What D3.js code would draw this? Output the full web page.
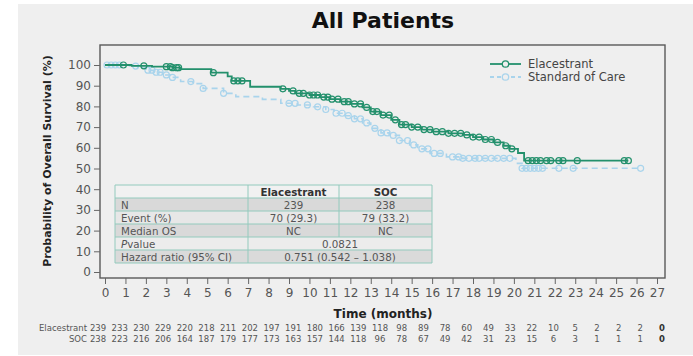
<!DOCTYPE html>
<html>
<head>
<meta charset="utf-8">
<script src="https://cdn.jsdelivr.net/npm/d3@7"></script>
<style>
  html, body { margin: 0; padding: 0; background: #fff; }
  svg { display: block; font-family: "DejaVu Sans", Verdana, sans-serif; }
</style>
</head>
<body>
<div id="chart"></div>
<script>
// Kaplan-Meier steps (months, survival %)
const elacTimes = [0, 1.3, 2.3, 3.3, 3.7, 5.2, 6.0, 6.2, 7.1, 8.6, 9.0, 9.3, 10.0, 10.5, 11.0, 11.5, 12.0, 12.6, 13.0, 13.5, 14.0, 14.4, 15.0, 15.5, 16.0, 16.8, 17.5, 18.0, 18.5, 19.0, 19.5, 19.8, 20.2, 20.5, 25.6];
const elacSurv  = [100, 99.6, 99.2, 98.7, 98.0, 96.3, 94.5, 92.3, 89.5, 88.5, 87.5, 86.3, 85.5, 84.5, 83.5, 82.3, 81.2, 79.5, 77.5, 75.8, 73.5, 71.2, 70.0, 68.8, 67.8, 67.0, 66.2, 65.2, 64.0, 62.6, 61.0, 59.5, 57.5, 53.8, 53.8];
const socTimes  = [0, 1.2, 1.6, 2.0, 2.4, 2.8, 3.3, 3.7, 4.3, 4.8, 5.8, 6.4, 7.7, 8.6, 9.4, 10.2, 10.8, 11.2, 11.7, 12.2, 12.6, 13.0, 13.5, 13.9, 14.4, 14.9, 15.3, 15.9, 16.7, 17.5, 20.1, 20.4, 26.2];
const socSurv   = [100, 99.5, 98.5, 97.5, 96.5, 95.2, 94.0, 92.0, 91.0, 88.7, 86.3, 84.7, 83.4, 81.5, 80.7, 79.8, 78.5, 76.7, 75.5, 74.0, 72.0, 69.4, 67.2, 66.0, 63.5, 61.4, 59.5, 57.3, 55.6, 54.9, 52.5, 50.1, 50.1];

// censoring marks (months)
const elacCensor = [0.9, 1.9, 3.0, 3.2, 3.3, 3.5, 3.6, 5.3, 6.3, 6.5, 6.7, 8.7, 9.2, 9.5, 9.7, 10.0, 10.2, 10.4, 10.7, 10.9, 11.1, 11.4, 11.7, 11.9, 12.2, 12.5, 12.8, 13.1, 13.3, 13.6, 13.9, 14.2, 14.5, 14.7, 15.0, 15.3, 15.6, 15.9, 16.2, 16.5, 16.8, 17.1, 17.4, 17.7, 18.0, 18.3, 18.6, 18.9, 19.2, 19.6, 19.9, 20.7, 20.9, 21.1, 21.3, 21.6, 21.8, 22.2, 22.4, 23.1, 25.4, 25.6];
const socCensor  = [0.1, 0.3, 0.5, 0.7, 1.5, 2.1, 2.3, 2.5, 2.7, 3.0, 3.3, 4.2, 4.8, 5.8, 9.0, 9.3, 9.9, 10.4, 10.8, 11.3, 11.6, 11.9, 12.2, 12.5, 12.8, 13.2, 13.5, 13.8, 14.1, 14.4, 14.8, 15.1, 15.5, 15.8, 16.1, 16.4, 17.0, 17.3, 17.5, 17.8, 18.1, 18.3, 18.6, 18.9, 19.2, 19.5, 19.8, 20.4, 20.6, 20.8, 21.0, 21.2, 21.4, 22.2, 22.9, 26.2];

const xTicks = d3.range(0, 28);
const yTicks = [0, 10, 20, 30, 40, 50, 60, 70, 80, 90, 100];

// numbers at risk
const riskLabels = ["Elacestrant", "SOC"];
const elacRisk = [239, 233, 230, 229, 220, 218, 211, 202, 197, 191, 180, 166, 139, 118, 98, 89, 78, 60, 49, 33, 22, 10, 5, 2, 2, 2, 0];
const socRisk  = [238, 223, 216, 206, 164, 187, 179, 177, 173, 163, 157, 144, 118, 96, 78, 67, 49, 42, 31, 23, 15, 6, 3, 1, 1, 1, 0];

// summary table
const tableHeader = ["", "Elacestrant", "SOC"];
const tableRows = [
  ["N", "239", "238"],
  ["Event (%)", "70 (29.3)", "79 (33.2)"],
  ["Median OS", "NC", "NC"],
  ["P value", "0.0821"],
  ["Hazard ratio (95% CI)", "0.751 (0.542 \u2013 1.038)"]
];

const seriesNames = ["Elacestrant", "Standard of Care"];
const elacColor = "#23906c";
const socColor = "#a9d4ec";

const W = 693, H = 356;
const svg = d3.select("#chart").append("svg").attr("width", W).attr("height", H);

svg.append("rect").attr("x", 18).attr("y", 4).attr("width", W - 18).attr("height", 351).attr("fill", "#efefef");

const x = d3.scaleLinear().domain([0, 27]).range([105, 657]);
const y = d3.scaleLinear().domain([0, 100]).range([272, 65]);
const frame = { left: 100, top: 45, right: 665, bottom: 278 };

// title
svg.append("text").attr("x", 383).attr("y", 28).attr("text-anchor", "middle")
  .attr("font-size", 22).attr("font-weight", "bold").attr("fill", "#111").text("All Patients");

// frame
svg.append("rect").attr("x", frame.left).attr("y", frame.top)
  .attr("width", frame.right - frame.left).attr("height", frame.bottom - frame.top)
  .attr("fill", "none").attr("stroke", "#5a5a5a").attr("stroke-width", 1.4);

// y axis
const yAxis = svg.append("g").attr("transform", `translate(${frame.left},0)`)
  .call(d3.axisLeft(y).tickValues(yTicks).tickSize(6).tickSizeOuter(0).tickPadding(3));
yAxis.select(".domain").remove();
yAxis.selectAll("line").attr("stroke", "#666");
yAxis.selectAll("text").attr("font-size", 12).attr("fill", "#555").attr("font-family", "DejaVu Sans, Verdana, sans-serif");

// x axis
const xAxis = svg.append("g").attr("transform", `translate(0,${frame.bottom})`)
  .call(d3.axisBottom(x).tickValues(xTicks).tickSize(6).tickSizeOuter(0).tickPadding(4));
xAxis.select(".domain").remove();
xAxis.selectAll("line").attr("stroke", "#666");
xAxis.selectAll("text").attr("font-size", 12).attr("fill", "#555").attr("font-family", "DejaVu Sans, Verdana, sans-serif");

svg.append("text").attr("transform", "translate(51,161) rotate(-90)").attr("text-anchor", "middle")
  .attr("font-size", 11).attr("font-weight", "bold").attr("fill", "#222")
  .text("Probability of Overall Survival (%)");

svg.append("text").attr("x", 383).attr("y", 318).attr("text-anchor", "middle")
  .attr("font-size", 12).attr("font-weight", "bold").attr("fill", "#222").text("Time (months)");

// summary table
const colX = [115, 248, 339, 432];
const rowY = d3.range(0, 7).map(i => 185 + i * 13);
const rowFill = ["#f1f1f1", "#d9d9d9", "#e7e7e7", "#d9d9d9", "#ececec", "#dadada"];
const tblFont = 10.3;
const tbl = svg.append("g");
const allRows = [tableHeader].concat(tableRows);
allRows.forEach((row, i) => {
  tbl.append("rect").attr("x", colX[0]).attr("y", rowY[i]).attr("width", colX[3] - colX[0]).attr("height", 13)
    .attr("fill", rowFill[i]);
  const ty = rowY[i] + 10.5;
  const label = tbl.append("text").attr("x", colX[0] + 6).attr("y", ty).attr("font-size", tblFont).attr("fill", "#555");
  if (row[0] === "P value") {
    label.append("tspan").attr("font-style", "italic").text("P");
    label.append("tspan").text("value");
  } else {
    label.text(row[0]);
  }
  if (row.length === 3) {
    [1, 2].forEach(c => {
      tbl.append("text").attr("x", (colX[c] + colX[c + 1]) / 2).attr("y", ty).attr("text-anchor", "middle")
        .attr("font-size", tblFont).attr("fill", i === 0 ? "#333" : "#555").attr("font-weight", i === 0 ? "bold" : "normal")
        .text(row[c]);
    });
  } else {
    tbl.append("text").attr("x", (colX[1] + colX[3]) / 2).attr("y", ty).attr("text-anchor", "middle")
      .attr("font-size", tblFont).attr("fill", "#555").text(row[1]);
  }
});
// table borders
const border = "#93cabd";
rowY.forEach(ry => {
  tbl.append("line").attr("x1", colX[0]).attr("x2", colX[3]).attr("y1", ry).attr("y2", ry).attr("stroke", border);
});
[0, 3].forEach(c => {
  tbl.append("line").attr("x1", colX[c]).attr("x2", colX[c]).attr("y1", rowY[0]).attr("y2", rowY[6]).attr("stroke", border);
});
tbl.append("line").attr("x1", colX[1]).attr("x2", colX[1]).attr("y1", rowY[0]).attr("y2", rowY[6]).attr("stroke", border);
tbl.append("line").attr("x1", colX[2]).attr("x2", colX[2]).attr("y1", rowY[0]).attr("y2", rowY[4]).attr("stroke", border);

// curves
const line = d3.line().curve(d3.curveStepAfter).x(d => x(d[0])).y(d => y(d[1]));
const elacPts = elacTimes.map((t, i) => [t, elacSurv[i]]);
const socPts = socTimes.map((t, i) => [t, socSurv[i]]);

function survAt(times, surv, t) {
  const i = d3.bisectRight(times, t) - 1;
  return surv[Math.max(0, i)];
}

svg.append("path").datum(socPts).attr("d", line).attr("fill", "none")
  .attr("stroke", socColor).attr("stroke-width", 1.6).attr("stroke-dasharray", "6,4");
svg.append("g").selectAll("circle").data(socCensor).join("circle")
  .attr("cx", d => x(d)).attr("cy", d => y(survAt(socTimes, socSurv, d))).attr("r", 3)
  .attr("fill", "none").attr("stroke", socColor).attr("stroke-width", 1.2);

svg.append("path").datum(elacPts).attr("d", line).attr("fill", "none")
  .attr("stroke", elacColor).attr("stroke-width", 1.8);
svg.append("g").selectAll("circle").data(elacCensor).join("circle")
  .attr("cx", d => x(d)).attr("cy", d => y(survAt(elacTimes, elacSurv, d))).attr("r", 3)
  .attr("fill", "none").attr("stroke", elacColor).attr("stroke-width", 1.2);

// legend
const lg = svg.append("g").attr("transform", "translate(490,0)");
[[elacColor, null, 64], [socColor, "4,3", 77]].forEach((s, i) => {
  lg.append("line").attr("x1", 0).attr("x2", 31).attr("y1", s[2]).attr("y2", s[2])
    .attr("stroke", s[0]).attr("stroke-width", 1.8).attr("stroke-dasharray", s[1]);
  lg.append("circle").attr("cx", 15.5).attr("cy", s[2]).attr("r", 3.2).attr("fill", "#efefef")
    .attr("stroke", s[0]).attr("stroke-width", 1.3);
  lg.append("text").attr("x", 38).attr("y", s[2] + 4).attr("font-size", 11.5).attr("fill", "#444").text(seriesNames[i]);
});

// numbers at risk
const rx = d3.scaleLinear().domain([0, 26]).range([98, 662]);
[elacRisk, socRisk].forEach((arr, r) => {
  const ry = 331 + r * 11;
  svg.append("text").attr("x", 87).attr("y", ry).attr("text-anchor", "end")
    .attr("font-size", 8.5).attr("fill", "#555").text(riskLabels[r]);
  svg.append("g").selectAll("text").data(arr).join("text")
    .attr("x", (d, i) => rx(i)).attr("y", ry).attr("text-anchor", "middle")
    .attr("font-size", 8.5).attr("fill", (d, i) => i === arr.length - 1 ? "#333" : "#555")
    .attr("font-weight", (d, i) => i === arr.length - 1 ? "bold" : "normal")
    .text(d => d);
});
</script>
</body>
</html>
